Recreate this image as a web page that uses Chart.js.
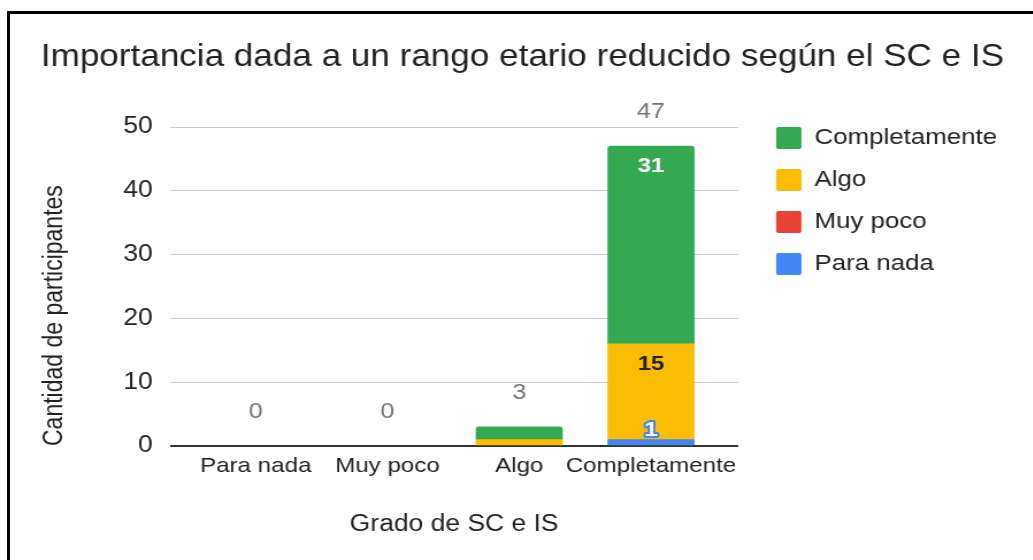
<!DOCTYPE html>
<html>
<head>
<meta charset="utf-8">
<script src="https://cdn.jsdelivr.net/npm/chart.js@4.4.1/dist/chart.umd.min.js"></script>
<style>
  html, body { margin: 0; padding: 0; background: #fff; overflow: hidden; }
  #wrap { position: absolute; left: 0; top: 0; width: 1033px; height: 560px; }
  /* the source picture is stretched sideways, so the canvas is too */
  #myChart { position: absolute; left: 0; top: 0; transform: scaleX(1.15); transform-origin: 0 0; }
  #frame { position: absolute; left: 7px; top: 11px; width: 1026px; height: 549px;
           border-left: 3px solid #000; border-top: 3px solid #000; pointer-events: none; }
</style>
</head>
<body>
<div id="wrap">
  <canvas id="myChart" width="898" height="560"></canvas>
  <div id="frame"></div>
</div>
<script>
// Data
const categories = ['Para nada', 'Muy poco', 'Algo', 'Completamente'];
const paraNada = [0, 0, 0, 1];
const muyPoco = [0, 0, 0, 0];
const algo = [0, 0, 1, 15];
const completamente = [0, 0, 2, 31];
const yTicks = [0, 10, 20, 30, 40, 50];

const FONT = "'Liberation Sans', Arial, sans-serif";

// zero counts become empty points so no flat bar covers the baseline
function toPoints(values) {
    return values.map((v, i) => ({ x: i, y: v === 0 ? null : v }));
}

// value labels: totals above the stacks, counts inside the big segments
const barLabels = {
    id: 'barLabels',
    afterDatasetsDraw(chart) {
        const ctx = chart.ctx;
        const xs = chart.scales.x;
        const ys = chart.scales.y;
        ctx.save();
        ctx.textAlign = 'center';
        ctx.textBaseline = 'middle';
        categories.forEach((cat, i) => {
            let total = 0;
            chart.data.datasets.forEach(ds => { total += ds.data[i].y || 0; });
            const cx = xs.getPixelForValue(i);

            ctx.font = '22px ' + FONT;
            ctx.fillStyle = '#757575';
            ctx.fillText(String(total), cx, ys.getPixelForValue(total) - 34);

            if (total < 10) return;
            chart.data.datasets.forEach((ds, d) => {
                const v = ds.data[i].y;
                if (!v) return;
                const bar = chart.getDatasetMeta(d).data[i];
                const h = bar.base - bar.y;
                ctx.font = 'bold 21px ' + FONT;
                if (h > 40) {
                    ctx.fillStyle = ds.labelColor;
                    ctx.fillText(String(v), cx, bar.y + 20);
                } else {
                    ctx.lineWidth = 4;
                    ctx.lineJoin = 'round';
                    ctx.strokeStyle = ds.backgroundColor;
                    ctx.strokeText(String(v), cx, bar.y - 9);
                    ctx.fillStyle = '#fff';
                    ctx.fillText(String(v), cx, bar.y - 9);
                }
            });
        });
        ctx.restore();
    }
};

var ctx = document.getElementById('myChart').getContext('2d');
var chart = new Chart(ctx, {
    type: 'bar',
    data: {
        datasets: [
            { label: 'Para nada', data: toPoints(paraNada), backgroundColor: '#4285F4', labelColor: '#fff' },
            { label: 'Muy poco', data: toPoints(muyPoco), backgroundColor: '#EA4335', labelColor: '#fff' },
            { label: 'Algo', data: toPoints(algo), backgroundColor: '#FBBC04', labelColor: '#222' },
            { label: 'Completamente', data: toPoints(completamente), backgroundColor: '#34A853', labelColor: '#fff' }
        ]
    },
    options: {
        responsive: false,
        animation: false,
        datasets: {
            bar: { barThickness: 75, borderRadius: 3, borderSkipped: 'start' }
        },
        layout: { padding: { top: 14, left: 31.6, right: 21, bottom: 10 } },
        plugins: {
            title: {
                display: true,
                text: 'Importancia dada a un rango etario reducido según el SC e IS',
                color: '#222',
                font: { family: FONT, size: 30.5, weight: 'normal' },
                padding: { top: 25, bottom: 31.65 }
            },
            legend: {
                position: 'right',
                align: 'start',
                fullSize: false,
                reverse: true,
                maxWidth: 260,
                labels: {
                    color: '#222',
                    font: { family: FONT, size: 22.5 },
                    boxWidth: 22,
                    boxHeight: 22,
                    padding: 19.5,
                    useBorderRadius: true,
                    borderRadius: 2
                }
            },
            tooltip: { enabled: false }
        },
        scales: {
            x: {
                type: 'linear',
                stacked: true,
                offset: false,
                min: -0.651,
                max: 3.662,
                afterBuildTicks: (scale) => { scale.ticks = categories.map((c, i) => ({ value: i })); },
                afterFit: (scale) => { scale.height = 104; },
                grid: { display: false, drawTicks: false, offset: false },
                border: { display: false },
                ticks: {
                    color: '#222',
                    font: { family: FONT, size: 21 },
                    padding: 8,
                    maxRotation: 0,
                    autoSkip: false,
                    callback: (v) => categories[v]
                },
                title: {
                    display: true,
                    text: 'Grado de SC e IS',
                    color: '#222',
                    font: { family: FONT, size: 23 },
                    padding: { top: 32, bottom: 11.2 }
                }
            },
            y: {
                stacked: true,
                min: 0,
                max: 53.1,
                afterBuildTicks: (scale) => { scale.ticks = yTicks.map(v => ({ value: v })); },
                afterFit: (scale) => { scale.width = 116.2; },
                grid: {
                    drawTicks: false,
                    color: (c) => (c.tick && c.tick.value === 0) ? '#333' : '#ccc',
                    lineWidth: (c) => (c.tick && c.tick.value === 0) ? 2 : 1
                },
                border: { display: false },
                ticks: { color: '#222', font: { family: FONT, size: 23 }, padding: 15 },
                title: {
                    display: true,
                    text: 'Cantidad de participantes',
                    align: 'start',
                    color: '#222',
                    font: { family: FONT, size: 23 },
                    padding: { top: 2.4, bottom: 10 }
                }
            },
            // empty axis: keeps a small gap between the plot and the legend
            gap: {
                type: 'linear',
                position: 'right',
                grid: { display: false },
                border: { display: false },
                ticks: { display: false },
                afterFit: (scale) => { scale.width = 13.5; }
            }
        }
    },
    plugins: [barLabels]
});
</script>
</body>
</html>
